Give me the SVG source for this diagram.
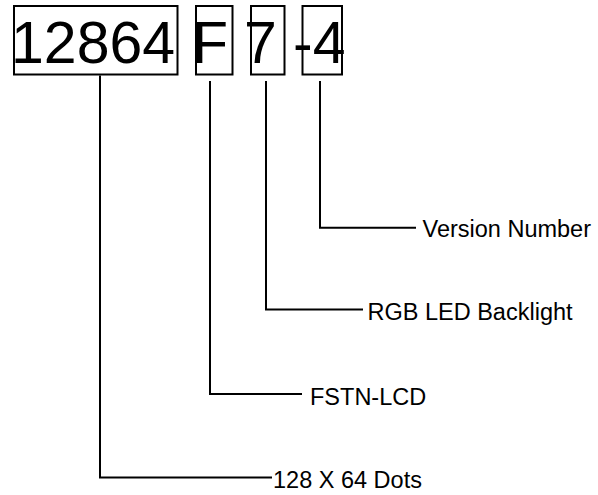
<svg xmlns="http://www.w3.org/2000/svg" width="598" height="495" viewBox="0 0 598 495">
<style>
.box{fill:none;stroke:#000;stroke-width:2}
.big{font-family:"Liberation Sans",Arial,sans-serif;font-size:59px;fill:#000}
.lbl{font-family:"Liberation Sans",Arial,sans-serif;font-size:23.5px;fill:#000}
.con{fill:none;stroke:#000;stroke-width:2}
</style>
<rect width="598" height="495" fill="#fff"/>
<g id="node-12864"><rect class="box" x="14" y="6" width="163.5" height="68.5"/><text class="big" x="11" y="63">12864</text></g>
<g id="node-F"><rect class="box" x="196" y="6" width="36.5" height="68.5"/><text class="big" x="192" y="63">F</text></g>
<g id="node-7"><rect class="box" x="251" y="6" width="33.5" height="68.5"/><text class="big" x="244" y="63">7</text></g>
<g id="node-4"><rect class="box" x="302.5" y="6" width="39.5" height="68.5"/><text class="big" x="293" y="63">-4</text></g>
<g id="connectors">
<polyline class="con" points="100,75.5 100,477.5 272,477.5"/>
<polyline class="con" points="210,81 210,394 302,394"/>
<polyline class="con" points="266,81 266,309.5 363,309.5"/>
<polyline class="con" points="320,81 320,227.7 416,227.7"/>
</g>
<g id="label-version"><text class="lbl" x="422.5" y="236.7">Version Number</text></g>
<g id="label-rgb"><text class="lbl" x="367.5" y="319.5">RGB LED Backlight</text></g>
<g id="label-fstn"><text class="lbl" x="310" y="404.5">FSTN-LCD</text></g>
<g id="label-dots"><text class="lbl" x="273" y="488">128 X 64 Dots</text></g>
</svg>
